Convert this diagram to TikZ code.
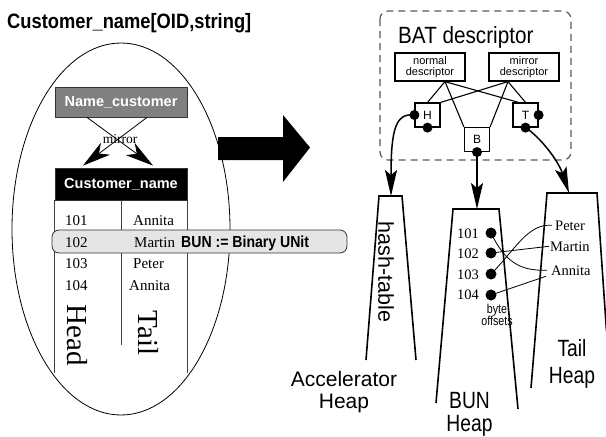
\documentclass[tikz,border=0pt]{standalone}
\usepackage{fontspec}
\setmainfont{Liberation Serif}
\setsansfont{Liberation Sans}
\newfontfamily\narrowsans[FakeStretch=0.88]{Liberation Sans}
\newfontfamily\slimsans[FakeStretch=0.82]{Liberation Sans}
\usetikzlibrary{arrows.meta}
\newcommand\fsz[2][]{\fontsize{#2}{#2}\selectfont}

\begin{document}
\begin{tikzpicture}[x=1pt,y=-1pt,
  lbl/.style={inner sep=0pt, anchor=base west},
  serif/.style={font=\fsz{15}},
  tbl/.style={draw=black!75, line width=0.9pt},
  hdrbox/.style={draw=black!80, line width=0.8pt, text=white,
    minimum width=132pt, inner sep=0pt, font=\sffamily\bfseries\fsz{14.5}},
  mirrortip/.style={line width=0.8pt, -{Stealth[length=28pt,width=15pt,inset=8pt]}},
  descbox/.style={draw, line width=1.2pt, minimum width=70pt, minimum height=28pt,
    inner sep=1pt, align=center, font=\sffamily\fontsize{11}{11.5}\selectfont},
  hbt/.style={draw, line width=1.2pt, minimum width=25pt, minimum height=24pt,
    inner sep=0pt, font=\sffamily\fsz{12}},
  wire/.style={line width=1.1pt},
  flow/.style={line width=1.5pt, -{Stealth[length=26pt,width=12pt,inset=5pt]}},
  heap/.style={line width=1.6pt, line join=miter},
  dot/.style={circle, fill, inner sep=0pt, minimum size=11pt},
  thinwire/.style={line width=0.8pt}]

\useasboundingbox (0,0) rectangle (606,437);

% ---------- left: the BAT as a table ----------
\node[lbl, font=\narrowsans\bfseries\fsz{20.8}] (title) at (7,28) {Customer\_name[OID,string]};

\draw[line width=0.8pt] (121,229) ellipse [x radius=109pt, y radius=186pt];

\node[hdrbox, fill=black!50, minimum height=30pt] (nc) at (121,102) {Name\_customer};
\node[hdrbox, fill=black, minimum height=32pt] (cn) at (121,184) {Customer\_name};

\draw[mirrortip] ([xshift=-34pt]nc.south) -- ([xshift=32pt,yshift=2pt]cn.north);
\draw[mirrortip] ([xshift=26pt]nc.south) -- ([xshift=-38pt,yshift=2pt]cn.north);
\node[font=\fsz{13.5}, inner sep=0pt] (mir) at (120,139) {mirror};

\draw[tbl] (cn.south west) -- ++(0,173);
\draw[tbl] (cn.south east) -- ++(0,173);
\draw[tbl] (cn.south) -- ++(0,145);

\node[draw=black!80, line width=0.8pt, fill=black!10, rounded corners=7pt,
  minimum width=295pt, minimum height=23pt, inner sep=0pt] (bun) at (199.5,241.5) {};

\node[lbl, serif] (h1) at (65,225) {101};
\node[lbl, serif] (t1) at (133,225) {Annita};
\node[lbl, serif] (h2) at (65,247) {102};
\node[lbl, serif] (t2) at (134,247) {Martin};
\node[lbl, serif] (h3) at (65,268) {103};
\node[lbl, serif] (t3) at (133,268) {Peter};
\node[lbl, serif] (h4) at (65,290) {104};
\node[lbl, serif] (t4) at (129,290) {Annita};
\node[lbl, font=\narrowsans\bfseries\fsz{16}] (buntxt) at (181,247.5) {BUN := Binary UNit};

\node[rotate=-90, font=\fsz{29}, inner sep=0pt] (head) at (77,335) {Head};
\node[rotate=-90, font=\fsz{29}, inner sep=0pt] (tail) at (148,333) {Tail};

% ---------- the big arrow ----------
\fill (218,137) -- (283,137) -- (283,115) -- (310,147.5) -- (283,182) -- (283,160)
  -- (218,160) -- cycle;

% ---------- right: descriptor and heaps ----------
\draw[black!65, line width=1.2pt, dash pattern=on 7pt off 5pt, rounded corners=8pt]
  (380,11) rectangle (571,160);
\node[lbl, font=\narrowsans\fsz{23.5}] (batd) at (398,43.5) {BAT descriptor};

\node[descbox] (nd) at (430,67) {normal\\descriptor};
\node[descbox] (md) at (524,67) {mirror\\descriptor};

\node[hbt] (hb) at (427.5,115) {H};
\node[hbt] (bb) at (477,139.5) {B};
\node[hbt] (tb) at (525.5,115) {T};

\draw[wire] ([xshift=15pt]nd.south) -- (hb.north);
\draw[wire] ([xshift=15pt]nd.south) -- (bb.north west);
\draw[wire] ([xshift=15pt]nd.south) -- ([xshift=-7pt]tb.north);
\draw[wire] ([xshift=-16pt]md.south) -- (hb.north east);
\draw[wire] ([xshift=-16pt]md.south) -- (bb.north east);
\draw[wire] ([xshift=-16pt]md.south) -- (tb.north);

\fill (hb.west) circle (5pt);
\fill (hb.south) circle (5pt);
\fill (bb.south) circle (5pt);
\fill (tb.east) circle (5pt);
\fill (tb.south) circle (5pt);

% heaps
\draw[heap] (366,360) -- (379,196) -- (402,196) -- (416,360);
\draw[heap] (436,403) -- (453,209) -- (499,209) -- (518,409);
\draw[heap] (531,388) -- (547,193) -- (597,193) -- (606.5,331);

\coordinate (hashtop) at (391,196);
\coordinate (buntop) at (477,209);
\coordinate (tailtop) at (569,193);

\draw[flow] (hb.west) .. controls (396,113) and (391,128) .. (hashtop);
\draw[flow] (bb.south) -- (buntop);
\draw[flow] (tb.south) .. controls (540,137) and (558,160) .. (tailtop);

\node[rotate=-90, font=\sffamily\fsz{21.5}, inner sep=0pt] (hasht) at (386,272) {hash-table};

% BUN heap contents
\node[lbl, font=\fsz{14.5}] (o1) at (457,238) {101};
\node[lbl, font=\fsz{14.5}] (o2) at (457,258) {102};
\node[lbl, font=\fsz{14.5}] (o3) at (457,279) {103};
\node[lbl, font=\fsz{14.5}] (o4) at (457,299) {104};
\node[dot] (d1) at (491,233) {};
\node[dot] (d2) at (491,253) {};
\node[dot] (d3) at (491,274) {};
\node[dot] (d4) at (491,295) {};
\node[font=\slimsans\fontsize{13}{12.5}\selectfont, align=center, inner sep=0pt] (byt) at (497,315) {byte\\offsets};

% tail heap contents
\node[lbl, font=\fsz{14.5}] (pe) at (555,230) {Peter};
\node[lbl, font=\fsz{14.5}] (ma) at (550,251) {Martin};
\node[lbl, font=\fsz{14.5}] (an) at (551,275) {Annita};

\draw[thinwire] (d2.center) -- ([xshift=-1pt]ma.west);
\draw[thinwire] (d4.center) -- ([xshift=-5pt,yshift=-6pt]an.west);
\draw[thinwire] (d1.center) .. controls (505,262) and (520,271) .. ([xshift=-4pt]an.west);
\draw[thinwire] (d3.center) .. controls (515,250) and (528,223) .. ([xshift=-3pt]pe.west);

% heap captions
\node[font=\sffamily\fontsize{21}{22}\selectfont, align=center, inner sep=0pt] (acc) at (344,392.5) {Accelerator\\Heap};
\node[font=\slimsans\fontsize{23.5}{23}\selectfont, align=center, inner sep=0pt] (bunh) at (469.5,414.5) {BUN\\Heap};
\node[font=\slimsans\fontsize{23.5}{27}\selectfont, align=center, inner sep=0pt] (tailh) at (572,364) {Tail\\Heap};

\end{tikzpicture}
\end{document}
